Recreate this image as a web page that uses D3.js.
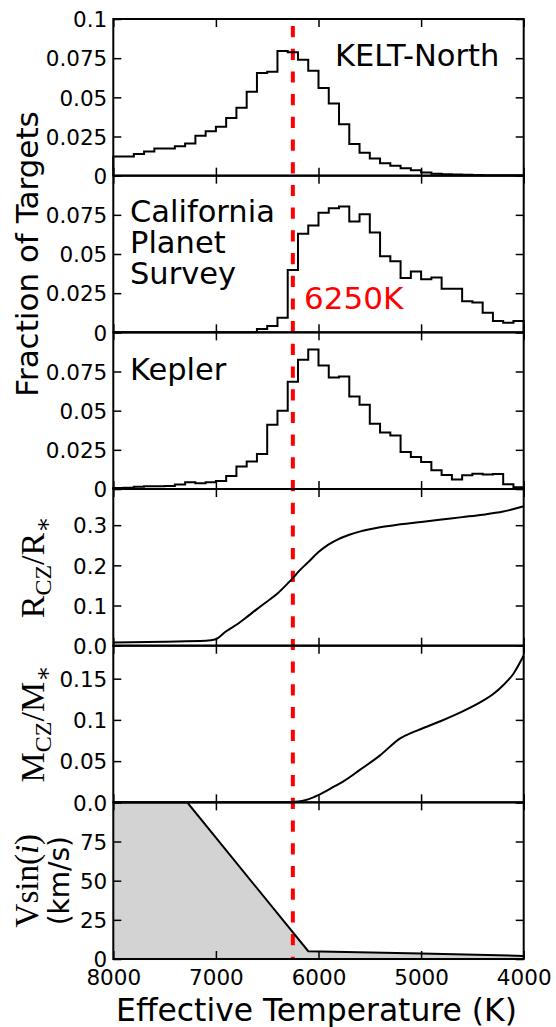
<!DOCTYPE html>
<html><head><meta charset="utf-8">
<script src="https://cdn.jsdelivr.net/npm/d3@7"></script>
<style>html,body{margin:0;padding:0;background:#fff;}svg{display:block;}</style>
</head><body>
<svg id="chart" width="556" height="1027"></svg>
<script>
// ---------------- data ----------------
const binLeftEdges = [8000,7900,7800,7700,7600,7500,7400,7300,7200,7100,7000,6900,6800,6700,6600,6500,6400,6300,6200,6100,
                      6000,5900,5800,5700,5600,5500,5400,5300,5200,5100,5000,4900,4800,4700,4600,4500,4400,4300,4200,4100];
const binWidth = 100;
const keltNorth = [0.0123,0.0123,0.0138,0.0155,0.0174,0.0174,0.0187,0.0206,0.0255,0.0283,
                   0.0313,0.0368,0.0434,0.0536,0.0655,0.0664,0.0796,0.0787,0.0740,0.0670,
                   0.0560,0.0460,0.0328,0.0202,0.0147,0.0109,0.0079,0.0064,0.0047,0.0034,
                   0.0021,0.0013,0.0009,0.0008,0.0006,0.0004,0.0002,0.0002,0.0002,0.0002];
const californiaPS = [0,0,0,0,0,0,0,0,0,0,
                      0,0,0,0,0.0021,0.0040,0.0093,0.0398,0.0629,0.0682,
                      0.0763,0.0792,0.0803,0.0708,0.0754,0.0638,0.0485,0.0453,0.0347,0.0388,
                      0.0339,0.0350,0.0278,0.0278,0.0199,0.0191,0.0125,0.0072,0.0061,0.0072];
const kepler = [0.0007,0.0008,0.0015,0.0017,0.0017,0.0019,0.0028,0.0043,0.0036,0.0043,
                0.0051,0.0083,0.0143,0.0175,0.0224,0.0410,0.0500,0.0684,0.0825,0.0891,
                0.0788,0.0712,0.0718,0.0590,0.0538,0.0417,0.0361,0.0342,0.0237,0.0205,
                0.0173,0.0120,0.0090,0.0060,0.0088,0.0098,0.0092,0.0096,0.0030,0.0011];

const rczTemp = [8000,7500,7100,7000,6900,6800,6700,6600,6500,6400,6300,6250,6200,6100,6000,5900,5800,5700,5600,5500,5400,5200,5000,4800,4600,4400,4200,4000];
const rczVal  = [0.008,0.010,0.012,0.016,0.036,0.052,0.071,0.091,0.110,0.130,0.155,0.168,0.183,0.208,0.233,0.252,0.266,0.276,0.284,0.290,0.295,0.302,0.308,0.314,0.320,0.326,0.334,0.347];

const mczTemp = [8000,6300,6250,6150,6050,5950,5850,5750,5600,5400,5200,5100,5000,4800,4600,4400,4300,4200,4100,4000];
const mczVal  = [0,0,0.0003,0.002,0.006,0.012,0.019,0.026,0.039,0.057,0.078,0.084,0.089,0.099,0.110,0.123,0.131,0.142,0.156,0.178];

const vsiniTemp = [8000,7280,6100,5000,4000];
const vsiniVal  = [100,100,5,3.5,2];

const kraftTemp = 6250;

const xTicks = [8000,7000,6000,5000,4000];
const xTickLabels = ["8000","7000","6000","5000","4000"];
const histTicks = [0,0.025,0.05,0.075,0.1];
const histTickLabelsFirst = ["0","0.025","0.05","0.075","0.1"];
const histTickLabelsOther = ["0","0.025","0.05","0.075",""];
const rczTicks = [0,0.1,0.2,0.3];
const rczTickLabels = ["0.0","0.1","0.2","0.3"];
const mczTicks = [0,0.05,0.1,0.15];
const mczTickLabels = ["0.0","0.05","0.1","0.15"];
const vsiniTicks = [0,25,50,75,100];
const vsiniTickLabels = ["0","25","50","75",""];

// ---------------- layout ----------------
const svg = d3.select("#chart");
const L = 113.3, R = 523.7, TOP = 19, PH = 156.67;
const x = d3.scaleLinear().domain([8000,4000]).range([L,R]);
const SANS = "DejaVu Sans, sans-serif";
const SERIF = "Liberation Serif, DejaVu Serif, serif";

const panels = [
  {domain:[0,0.1], ticks:histTicks, labels:histTickLabelsFirst},
  {domain:[0,0.1], ticks:histTicks, labels:histTickLabelsOther},
  {domain:[0,0.1], ticks:histTicks, labels:histTickLabelsOther},
  {domain:[0,0.39], ticks:rczTicks, labels:rczTickLabels},
  {domain:[0,0.19], ticks:mczTicks, labels:mczTickLabels},
  {domain:[0,100], ticks:vsiniTicks, labels:vsiniTickLabels}
];
panels.forEach((p,i)=>{
  p.top = TOP + i*PH; p.bottom = p.top + PH;
  p.y = d3.scaleLinear().domain(p.domain).range([p.bottom,p.top]);
});

const gFill = svg.append("g");
const gRed = svg.append("g");
const gData = svg.append("g");
const gAxes = svg.append("g");

// ---------------- histograms ----------------
function histPoints(vals){
  const pts = [[binLeftEdges[0],0]];
  vals.forEach((v,i)=>pts.push([binLeftEdges[i],v]));
  const lastEdge = binLeftEdges[binLeftEdges.length-1]-binWidth;
  pts.push([lastEdge, vals[vals.length-1]]);
  pts.push([lastEdge, 0]);
  return pts;
}
[keltNorth, californiaPS, kepler].forEach((vals,i)=>{
  const p = panels[i];
  const line = d3.line().x(d=>x(d[0])).y(d=>p.y(d[1])).curve(d3.curveStepAfter);
  gData.append("path").attr("d", line(histPoints(vals)))
    .attr("fill","none").attr("stroke","#000").attr("stroke-width",2).attr("stroke-linejoin","miter");
});

// ---------------- R_CZ, M_CZ ----------------
function curve(temps, vals, p){
  const line = d3.line().x(d=>x(d[0])).y(d=>p.y(d[1])).curve(d3.curveMonotoneX);
  gData.append("path").attr("d", line(temps.map((t,i)=>[t,vals[i]])))
    .attr("fill","none").attr("stroke","#000").attr("stroke-width",2);
}
curve(rczTemp, rczVal, panels[3]);
curve(mczTemp, mczVal, panels[4]);

// ---------------- vsini ----------------
{
  const p = panels[5];
  const pts = vsiniTemp.map((t,i)=>[t,vsiniVal[i]]);
  const area = d3.area().x(d=>x(d[0])).y0(p.y(0)).y1(d=>p.y(d[1]));
  gFill.append("path").attr("d", area(pts)).attr("fill","#d3d3d3");
  const line = d3.line().x(d=>x(d[0])).y(d=>p.y(d[1]));
  gData.append("path").attr("d", line(pts)).attr("fill","none").attr("stroke","#000").attr("stroke-width",2);
}

// ---------------- Kraft break line ----------------
gRed.append("line")
  .attr("x1", x(kraftTemp)).attr("x2", x(kraftTemp))
  .attr("y1", panels[0].top).attr("y2", panels[5].bottom)
  .attr("stroke","#ff0000").attr("stroke-width",4)
  .attr("stroke-dasharray","11.2 11.5").attr("stroke-dashoffset",15.7);

// ---------------- axes ----------------
panels.forEach((p,i)=>{
  const gl = gAxes.append("g").attr("transform",`translate(${L},0)`)
    .call(d3.axisLeft(p.y).tickValues(p.ticks).tickSizeInner(-8).tickSizeOuter(0).tickPadding(6)
      .tickFormat((d,j)=>p.labels[j]));
  const gr = gAxes.append("g").attr("transform",`translate(${R},0)`)
    .call(d3.axisRight(p.y).tickValues(p.ticks).tickSizeInner(-8).tickSizeOuter(0).tickFormat(""));
  const gt = gAxes.append("g").attr("transform",`translate(0,${p.top})`)
    .call(d3.axisTop(x).tickValues(xTicks).tickSizeInner(-8).tickSizeOuter(0).tickFormat(""));
  const gb = gAxes.append("g").attr("transform",`translate(0,${p.bottom})`)
    .call(d3.axisBottom(x).tickValues(xTicks).tickSizeInner(-8).tickSizeOuter(0).tickPadding(11)
      .tickFormat((d,j)=> i===5 ? xTickLabels[j] : ""));
  [gl,gr,gt,gb].forEach(g=>{
    g.select(".domain").remove();
    g.selectAll(".tick line").attr("stroke","#000").attr("stroke-width",1.5);
    g.selectAll(".tick text").attr("fill","#000").style("font-family",SANS).style("font-size","21.5px");
  });
  gl.selectAll(".tick text").attr("dy","0.36em");
  gAxes.append("rect").attr("x",L).attr("y",p.top).attr("width",R-L).attr("height",PH)
    .attr("fill","none").attr("stroke","#000").attr("stroke-width",2);
});

// ---------------- texts ----------------
function txt(x0,y0,s,opts={}){
  return svg.append("text").attr("x",x0).attr("y",y0).text(s)
    .style("font-family",opts.family||SANS).style("font-size",(opts.size||30.5)+"px")
    .attr("fill",opts.color||"#000").attr("text-anchor",opts.anchor||"start");
}
txt(335,66,"KELT-North");
txt(130,222,"California");
txt(130,253,"Planet");
txt(130,284,"Survey");
txt(130,380,"Kepler");
txt(304,309,"6250K",{color:"#ff0000",size:31});
txt((L+R)/2-2,1021,"Effective Temperature (K)",{anchor:"middle",size:31.4});

svg.append("text").attr("transform",`translate(38,${(panels[0].top+panels[2].bottom)/2}) rotate(-90)`)
  .attr("text-anchor","middle").style("font-family",SANS).style("font-size","31px").text("Fraction of Targets");

function mathLabel(xb, yc, main1, sub1, main2, sub2){
  const t = svg.append("text").attr("transform",`translate(${xb},${yc}) rotate(-90)`)
    .attr("text-anchor","middle").style("font-family",SERIF).style("font-size","34px");
  t.append("tspan").text(main1);
  t.append("tspan").attr("dy",7).style("font-size","24px").text(sub1);
  t.append("tspan").attr("dy",-7).text(main2);
  t.append("tspan").attr("dy",7).style("font-size","24px").text(sub2);
}
mathLabel(44,(panels[3].top+panels[3].bottom)/2,"R","CZ","/R","\u2217");
mathLabel(44,(panels[4].top+panels[4].bottom)/2,"M","CZ","/M","\u2217");
{
  const yc=(panels[5].top+panels[5].bottom)/2;
  const t = svg.append("text").attr("transform",`translate(38,${yc}) rotate(-90)`)
    .attr("text-anchor","middle").style("font-family",SERIF).style("font-size","33px");
  t.append("tspan").text("Vsin(");
  t.append("tspan").style("font-style","italic").text("i");
  t.append("tspan").text(")");
  svg.append("text").attr("transform",`translate(69,${yc}) rotate(-90)`)
    .attr("text-anchor","middle").style("font-family",SANS).style("font-size","28px").text("(km/s)");
}
</script>
</body></html>
